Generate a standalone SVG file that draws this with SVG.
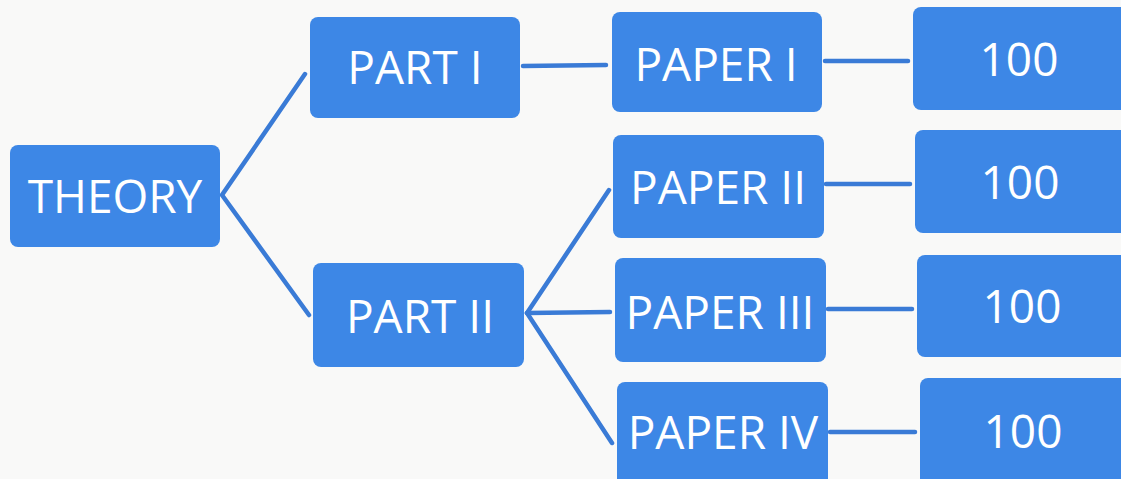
<svg xmlns="http://www.w3.org/2000/svg" width="1121" height="479" viewBox="0 0 1121 479">
<style>
.box{fill:#3d87e6}
.t{fill:#ffffff;font-family:"Open Sans","Liberation Sans",sans-serif;font-size:46px;text-anchor:middle}
.c{stroke:#3a7bd6;stroke-width:4.5;fill:none;stroke-linecap:round;stroke-linejoin:miter}
</style>
<rect width="1121" height="479" fill="#f9f9f8"/>
<g id="connectors">
<polyline class="c" points="305,74 222,195 309,315"/>
<line class="c" x1="523" y1="66" x2="606" y2="65"/>
<line class="c" x1="825" y1="61" x2="908" y2="61"/>
<line class="c" x1="826" y1="184" x2="910" y2="184"/>
<polyline class="c" points="609,190 527,313 612,443"/>
<line class="c" x1="527" y1="313" x2="610" y2="312"/>
<line class="c" x1="828" y1="309" x2="912" y2="309"/>
<line class="c" x1="830" y1="432" x2="915" y2="432"/>
</g>
<g id="theory"><rect class="box" x="10" y="145" width="210" height="102" rx="8"/><text class="t" x="115" y="213">THEORY</text></g>
<g id="part1"><rect class="box" x="310" y="17" width="210" height="101" rx="8"/><text class="t" x="415" y="84">PART I</text></g>
<g id="part2"><rect class="box" x="313" y="263" width="211" height="104" rx="8"/><text class="t" x="420" y="333">PART II</text></g>
<g id="paper1"><rect class="box" x="612" y="12" width="210" height="100" rx="8"/><text class="t" x="716" y="81">PAPER I</text></g>
<g id="paper2"><rect class="box" x="613" y="135" width="211" height="103" rx="8"/><text class="t" x="718" y="204">PAPER II</text></g>
<g id="paper3"><rect class="box" x="615" y="258" width="211" height="104" rx="8"/><text class="t" x="720" y="329">PAPER III</text></g>
<g id="paper4"><rect class="box" x="617" y="382" width="211" height="110" rx="8"/><text class="t" x="723" y="449">PAPER IV</text></g>
<g id="m1"><rect class="box" x="913" y="7" width="220" height="103" rx="8"/><text class="t" x="1019" y="76">100</text></g>
<g id="m2"><rect class="box" x="915" y="130" width="220" height="103" rx="8"/><text class="t" x="1020" y="199">100</text></g>
<g id="m3"><rect class="box" x="917" y="255" width="220" height="102" rx="8"/><text class="t" x="1022" y="323">100</text></g>
<g id="m4"><rect class="box" x="920" y="378" width="220" height="110" rx="8"/><text class="t" x="1023" y="448">100</text></g>
</svg>
